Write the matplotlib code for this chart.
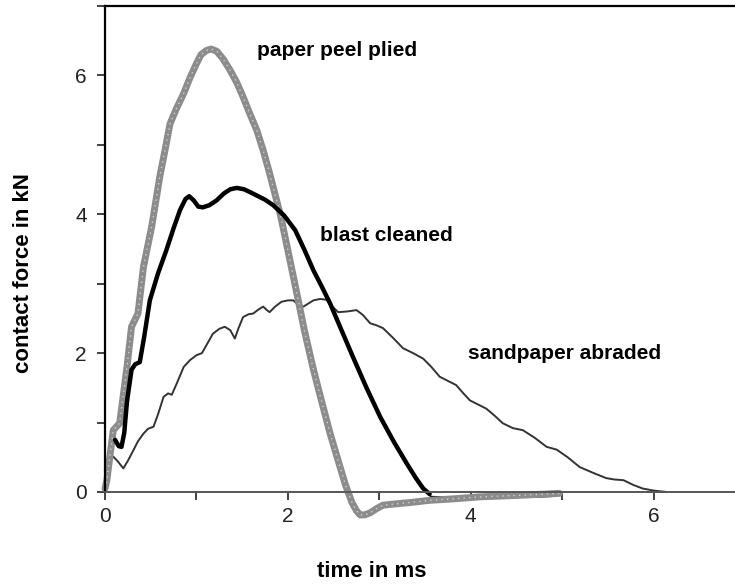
import matplotlib
matplotlib.use("Agg")
import matplotlib.pyplot as plt
from matplotlib.ticker import MultipleLocator

plt.rcParams['font.family'] = ['Liberation Sans', 'DejaVu Sans']

# paper peel plied (thick grey)
t_paper = [0.0, 0.02, 0.09, 0.16, 0.24, 0.29, 0.36, 0.42, 0.51, 0.60, 0.66, 0.71, 0.78, 0.86, 0.93,
           1.00, 1.05, 1.11, 1.16, 1.22, 1.29, 1.37, 1.44, 1.51, 1.58, 1.66, 1.73, 1.80, 1.92, 2.00,
           2.09, 2.18, 2.28, 2.37, 2.46, 2.55, 2.63, 2.70, 2.75, 2.79, 2.84, 2.90, 2.97, 3.04, 3.19,
           3.35, 3.55, 3.80, 4.10, 4.50, 4.97]
f_paper = [0.05, 0.17, 0.89, 0.99, 1.80, 2.38, 2.57, 3.24, 3.82, 4.55, 4.95, 5.30, 5.52, 5.74, 5.97,
           6.17, 6.30, 6.36, 6.38, 6.35, 6.24, 6.07, 5.90, 5.69, 5.46, 5.21, 4.92, 4.59, 3.98, 3.48,
           2.91, 2.33, 1.76, 1.30, 0.85, 0.45, 0.10, -0.15, -0.27, -0.33, -0.33, -0.30, -0.24, -0.19, -0.17,
           -0.15, -0.12, -0.10, -0.07, -0.05, -0.02]

# blast cleaned (thick black)
t_blast = [0.11, 0.15, 0.18, 0.21, 0.24, 0.29, 0.33, 0.38, 0.43, 0.49, 0.58, 0.67, 0.75, 0.82, 0.88,
           0.92, 0.97, 1.02, 1.07, 1.14, 1.22, 1.30, 1.37, 1.44, 1.52, 1.60, 1.66, 1.75, 1.84, 1.96,
           2.08, 2.18, 2.28, 2.37, 2.46, 2.58, 2.71, 2.86, 3.01, 3.16, 3.30, 3.40, 3.48, 3.55]
f_blast = [0.75, 0.66, 0.65, 0.85, 1.30, 1.76, 1.84, 1.87, 2.25, 2.76, 3.15, 3.48, 3.80, 4.06, 4.22,
           4.26, 4.20, 4.11, 4.10, 4.13, 4.20, 4.30, 4.36, 4.38, 4.36, 4.31, 4.27, 4.21, 4.13, 3.98,
           3.77, 3.49, 3.19, 2.96, 2.72, 2.35, 1.95, 1.50, 1.08, 0.72, 0.41, 0.20, 0.05, -0.03]
t_blast_tail = [3.55, 3.80, 4.10, 4.40, 4.70, 5.03]
f_blast_tail = [-0.09, -0.10, -0.07, -0.06, -0.05, -0.03]

# sandpaper abraded (thin)
t_sand = [0.0, 0.05, 0.09, 0.14, 0.20, 0.25, 0.31, 0.36, 0.42, 0.47, 0.53, 0.58, 0.64, 0.69, 0.73,
          0.79, 0.86, 0.93, 1.00, 1.06, 1.12, 1.18, 1.25, 1.31, 1.37, 1.42, 1.46, 1.51, 1.57, 1.62,
          1.68, 1.73, 1.77, 1.80, 1.86, 1.93, 2.00, 2.06, 2.11, 2.17, 2.23, 2.28, 2.35, 2.42, 2.48,
          2.55, 2.65, 2.75, 2.82, 2.90, 2.97, 3.04, 3.15, 3.26, 3.37, 3.48, 3.57, 3.66, 3.75, 3.84,
          3.92, 3.99, 4.08, 4.17, 4.26, 4.35, 4.46, 4.57, 4.70, 4.83, 4.94, 5.06, 5.19, 5.33, 5.48,
          5.57, 5.67, 5.78, 5.88, 6.00, 6.14]
f_sand = [0.32, 0.44, 0.51, 0.44, 0.34, 0.45, 0.60, 0.73, 0.84, 0.91, 0.94, 1.12, 1.37, 1.42, 1.40,
          1.58, 1.80, 1.90, 1.97, 2.00, 2.14, 2.28, 2.35, 2.38, 2.33, 2.21, 2.36, 2.52, 2.56, 2.57,
          2.63, 2.67, 2.62, 2.59, 2.67, 2.74, 2.76, 2.76, 2.70, 2.67, 2.72, 2.76, 2.78, 2.77, 2.68,
          2.59, 2.60, 2.62, 2.55, 2.43, 2.40, 2.36, 2.22, 2.07, 2.00, 1.92, 1.80, 1.66, 1.60, 1.54,
          1.42, 1.32, 1.26, 1.20, 1.10, 0.99, 0.92, 0.89, 0.78, 0.65, 0.61, 0.50, 0.36, 0.28, 0.20,
          0.18, 0.17, 0.10, 0.05, 0.02, 0.0]

fig = plt.figure(figsize=(7.35, 5.88), dpi=100)
ax = fig.add_axes([0.1429, 0.1633, 0.8571, 0.8265])

ax.plot(t_sand, f_sand, color='#333333', lw=1.4, clip_on=False)
ax.plot(t_blast_tail, f_blast_tail, color='black', lw=3.5, dashes=(6, 4), clip_on=False)
ax.plot(t_paper, f_paper, color='#8c8c8c', lw=5, solid_joinstyle='round', solid_capstyle='round',
        clip_on=False)
ax.plot(t_paper, f_paper, color='#d0d0d0', lw=1.0, dashes=(1, 3), clip_on=False)
ax.plot(t_blast, f_blast, color='black', lw=3.2, solid_joinstyle='round', solid_capstyle='round',
        clip_on=False)

ax.text(2.54, 6.36, 'paper peel plied', fontsize=15, fontweight='bold', ha='center', va='center')
ax.text(3.08, 3.69, 'blast cleaned', fontsize=15, fontweight='bold', ha='center', va='center')
ax.text(5.03, 2.0, 'sandpaper abraded', fontsize=15, fontweight='bold', ha='center', va='center')

ax.set_xlim(0, 6.89)
ax.set_ylim(0, 7.0)
ax.xaxis.set_major_locator(MultipleLocator(2))
ax.xaxis.set_minor_locator(MultipleLocator(1))
ax.yaxis.set_major_locator(MultipleLocator(2))
ax.yaxis.set_minor_locator(MultipleLocator(1))
ax.tick_params(which='both', direction='out', length=6, width=1.2, labelsize=15,
               colors='#222222')
ax.tick_params(axis='y', pad=7)
ax.tick_params(axis='x', pad=5)

ax.spines['right'].set_visible(False)
for s in ['left', 'top']:
    ax.spines[s].set_linewidth(1.6)
    ax.spines[s].set_color('black')
ax.spines['bottom'].set_linewidth(1.4)
ax.spines['bottom'].set_color('#555555')

ax.set_xlabel('time in ms', fontsize=16, fontweight='bold')
ax.set_ylabel('contact force in kN', fontsize=16, fontweight='bold')
ax.xaxis.set_label_coords(0.423, -0.142)
ax.yaxis.set_label_coords(-0.112, 0.45)

fig.savefig('out.png', dpi=100)
